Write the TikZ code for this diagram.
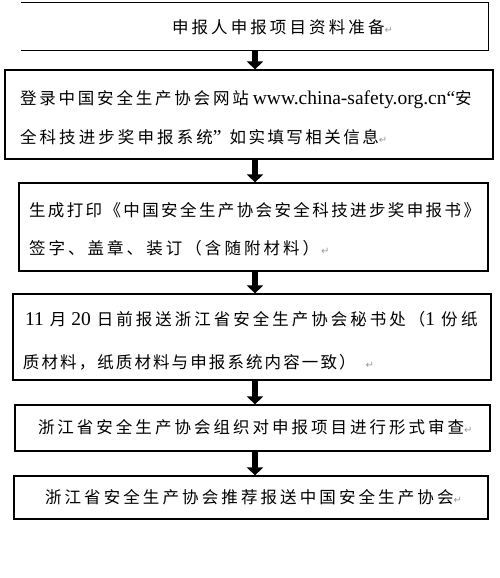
\documentclass[tikz,border=0pt]{standalone}
\usepackage{fontspec}
\usetikzlibrary{arrows.meta}
\setmainfont{Liberation Serif}
\newfontfamily\cjkf{Noto Sans CJK SC}
\newfontfamily\latf{Liberation Serif}
\newfontfamily\symf{DejaVu Sans}
\newcommand\cjx[2][16]{{\cjkf\fontsize{16.5pt}{16.5pt}\selectfont\addfontfeatures{LetterSpace=#1}#2}}
\newcommand\latx[1]{{\latf\fontsize{19.5pt}{19.5pt}\selectfont #1}}
\newcommand\parmk{{\symf\fontsize{10pt}{10pt}\selectfont\color{gray!80}↵}}
\begin{document}
\begin{tikzpicture}[x=1pt,y=-1pt,
  box/.style={draw, line width=1.2pt, rectangle, inner sep=0pt},
  openbox/.style={rectangle, inner sep=0pt},
  txt/.style={anchor=west, inner sep=0pt, outer sep=0pt},
  fat/.style={line width=6pt, -{Triangle[length=8pt,width=16pt]}}]
\useasboundingbox[fill=white] (0,0) rectangle (500,578);
% boxes
\node[openbox, minimum width=467pt, minimum height=47pt] (b1) at (254.5,26.5) {};
\draw[line width=1.2pt] (b1.north west) -- (b1.north east) -- (b1.south east) -- (b1.south west);
\node[box, minimum width=488pt, minimum height=89pt] (b2) at (249,114.5) {};
\node[box, minimum width=469pt, minimum height=88pt] (b3) at (253.5,227) {};
\node[box, minimum width=478pt, minimum height=86pt] (b4) at (252,337) {};
\node[box, minimum width=475pt, minimum height=46pt] (b5) at (252.5,428) {};
\node[box, minimum width=474pt, minimum height=43pt] (b6) at (251,497.5) {};
% arrows
\coordinate (ax) at (255,0);
\draw[fat] (b1.south -| ax) -- (b2.north -| ax);
\draw[fat] (b2.south -| ax) -- (b3.north -| ax);
\draw[fat] (b3.south -| ax) -- (b4.north -| ax);
\draw[fat] (b4.south -| ax) -- (b5.north -| ax);
\draw[fat] (b5.south -| ax) -- (b6.north -| ax);
% texts
\node[txt] (t1) at (172,27) {\cjx[18.8]{申报人申报项目资料准备}\parmk};
\node[txt] (t2a) at (20,100) {\cjx[17]{登录中国安全生产协会网站}\hspace{4pt}\latx{www.china-safety.org.cn“}\cjx{安}};
\node[txt] (t2b) at (20,137) {\cjx[18.8]{全科技进步奖申报系统}\latx{”}\hspace{8pt}\cjx[15]{如实填写相关信息}\parmk};
\node[txt] (t3a) at (29,210) {\cjx[14.5]{生成打印《中国安全生产协会安全科技进步奖申报书》}};
\node[txt] (t3b) at (29,248) {\cjx[18.5]{签字、盖章、装订（含随附材料）}\hspace{2pt}\parmk};
\node[txt] (t4a) at (25,319) {\latx{11}\hspace{6pt}\cjx[0]{月}\hspace{5pt}\latx{20}\hspace{6pt}\cjx[18.2]{日前报送浙江省安全生产协会秘书处（}\latx{1}\hspace{6pt}\cjx[21]{份纸}};
\node[txt] (t4b) at (23,362) {\cjx[12.7]{质材料，纸质材料与申报系统内容一致）}\hspace{10pt}\parmk};
\node[txt] (t5) at (38,427) {\cjx[18.2]{浙江省安全生产协会组织对申报项目进行形式审查}\parmk};
\node[txt] (t6) at (45,497) {\cjx[18.8]{浙江省安全生产协会推荐报送中国安全生产协会}\parmk};
\end{tikzpicture}
\end{document}
